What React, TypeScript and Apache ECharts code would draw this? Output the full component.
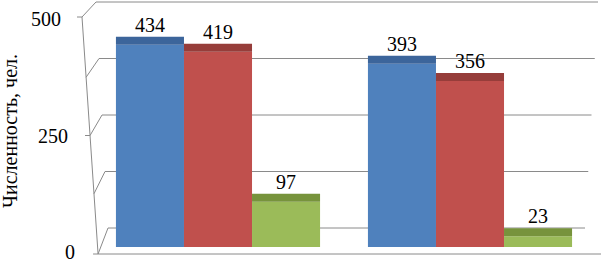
import React, { useEffect, useRef } from 'react';
import * as echarts from 'echarts';

const categories = ['Категория 1', 'Категория 2'];
const seriesNames = ['Ряд 1', 'Ряд 2', 'Ряд 3'];
const blueValues = [434, 393];
const redValues = [419, 356];
const greenValues = [97, 23];
const yAxisMin = 0;
const yAxisMax = 500;
const yLabelInterval = 250;
const gridInterval = 125;
const yAxisTitle = 'Численность, чел.';

const FONT = 'Liberation Serif';
const FRAME = '#8a8a8a';
const BAR_SHARE = 0.27;
const CAP = 8;
const H = 262;
// layout of the three grids: bars, back wall, front axis
const BACK = { left: 98, right: 6, top: 2, bottom: 34 };
const FRONT = { left: 98, right: 0, top: 19, bottom: 10 };

export default function App() {
  const ref = useRef<HTMLDivElement>(null);

  useEffect(() => {
    const chart = echarts.init(ref.current!, null, { renderer: 'svg' });
    const faces = [
      { front: '#4F81BD', top: '#3C659B' },
      { front: '#C0504D', top: '#963D3A' },
      { front: '#9BBB59', top: '#77933C' },
    ];
    const values = [blueValues, redValues, greenValues];

    const barSeries = (si: number) => ({
      type: 'bar',
      name: seriesNames[si],
      xAxisIndex: 0,
      yAxisIndex: 0,
      barWidth: `${BAR_SHARE * 100}%`,
      barGap: '0%',
      z: 4,
      data: values[si],
      itemStyle: { color: faces[si].front },
      label: {
        show: true,
        position: 'top',
        distance: CAP + 2,
        color: '#000',
        fontSize: 20,
        fontFamily: FONT,
      },
    });

    const capSeries = (si: number) => ({
      type: 'custom',
      name: seriesNames[si],
      xAxisIndex: 0,
      yAxisIndex: 0,
      z: 5,
      data: values[si].map((v, i) => [i, v]),
      renderItem: (params: any, api: any) => {
        const ci = api.value(0);
        const v = api.value(1);
        const band = api.size([1, 0])[0];
        const bw = band * BAR_SHARE;
        const top = api.coord([ci, v]);
        const x = top[0] + (si - 1.5) * bw;
        return {
          type: 'rect',
          shape: { x, y: top[1] - CAP, width: bw, height: CAP },
          style: { fill: faces[si].top },
        };
      },
    });

    const labelPad: Record<number, string> = { 0: 'a', 250: 'b', 500: 'c' };

    // 3D frame: slanted front axis, diagonals to back wall, back wall gridlines
    const scaleY = (g: typeof BACK, v: number) =>
      H - g.bottom - ((H - g.bottom - g.top) * (v - yAxisMin)) / (yAxisMax - yAxisMin);
    const frontX = (y: number) => 82 + ((y - 17) * 16) / 236;
    const backX = (y: number) => 96 + ((y - 2) * 12) / 226;
    const backRight = (y: number) => 598 - ((y - 2) * 13) / 226;
    const lineStyle = { stroke: FRAME, lineWidth: 1 };
    const elements: any[] = [];
    const gridLevels: number[] = [];
    for (let v = yAxisMin; v <= yAxisMax; v += gridInterval) gridLevels.push(v);
    const fy = (v: number) => scaleY(FRONT, v) + (v === yAxisMin ? 2 : 0) - (v === yAxisMax ? 2 : 0);
    elements.push({
      type: 'line',
      z: 0,
      shape: { x1: frontX(fy(yAxisMax)), y1: fy(yAxisMax), x2: frontX(fy(yAxisMin)), y2: fy(yAxisMin) },
      style: lineStyle,
    });
    gridLevels.forEach((v) => {
      const by = scaleY(BACK, v);
      const f = fy(v);
      elements.push({
        type: 'line',
        z: 0,
        shape: { x1: frontX(f), y1: f, x2: backX(by), y2: by },
        style: lineStyle,
      });
      elements.push({
        type: 'line',
        z: 0,
        shape: { x1: backX(by), y1: by, x2: backRight(by), y2: by },
        style: lineStyle,
      });
      if (v % yLabelInterval === 0) {
        elements.push({
          type: 'line',
          z: 0,
          shape: { x1: frontX(f) - 5, y1: f, x2: frontX(f), y2: f },
          style: lineStyle,
        });
      }
    });
    elements.push({
      type: 'text',
      z: 1,
      x: 10,
      y: 131,
      rotation: Math.PI / 2,
      style: {
        text: yAxisTitle,
        fontFamily: FONT,
        fontSize: 20,
        fill: '#000',
        align: 'center',
        verticalAlign: 'middle',
      },
    });

    chart.setOption({
      animation: false,
      backgroundColor: '#fff',
      grid: [
        { left: 92, right: 5, top: 14, bottom: 15, outerBoundsMode: 'none', containLabel: false },
        { ...BACK, outerBoundsMode: 'none', containLabel: false },
        { ...FRONT, outerBoundsMode: 'none', containLabel: false },
      ],
      xAxis: [
        { type: 'category', data: categories, gridIndex: 0, show: false },
        { type: 'category', data: categories, gridIndex: 1, show: false },
        {
          type: 'category',
          data: categories,
          gridIndex: 2,
          axisLine: { show: false },
          axisTick: { show: false },
          axisLabel: { show: false },
        },
      ],
      yAxis: [
        { type: 'value', gridIndex: 0, min: yAxisMin, max: yAxisMax, show: false },
        {
          type: 'value',
          gridIndex: 1,
          min: yAxisMin,
          max: yAxisMax,
          interval: gridInterval,
          axisLine: { show: false },
          axisTick: { show: false },
          axisLabel: { show: false },
          splitLine: { show: false },
        },
        {
          type: 'value',
          gridIndex: 2,
          min: yAxisMin,
          max: yAxisMax,
          interval: yLabelInterval,
          axisLine: { show: false },
          axisTick: { show: false },
          splitLine: { show: false },
          axisLabel: {
            margin: 23,
            color: '#000',
            fontSize: 20,
            fontFamily: FONT,
            formatter: (v: number) => `{${labelPad[v] || 'a'}|${v}}`,
            rich: {
              a: { fontSize: 20, fontFamily: FONT, color: '#000', padding: [0, 0, 0, 0] },
              b: { fontSize: 20, fontFamily: FONT, color: '#000', padding: [0, 7, 0, 0] },
              c: { fontSize: 20, fontFamily: FONT, color: '#000', padding: [0, 14, 0, 0] },
            },
          },
        },
      ],
      graphic: {
        elements: [
          ...elements,
          {
            type: 'line',
            z: 0,
            shape: { x1: frontX(fy(yAxisMin)), y1: fy(yAxisMin), x2: 601, y2: fy(yAxisMin) },
            style: lineStyle,
          },
        ],
      },
      series: [
        barSeries(0), barSeries(1), barSeries(2),
        capSeries(0), capSeries(1), capSeries(2),
      ],
    });

    return () => chart.dispose();
  }, []);

  return (
    <div
      ref={ref}
      style={{ position: 'fixed', left: 0, top: 0, width: 601, height: 262 }}
    />
  );
}
